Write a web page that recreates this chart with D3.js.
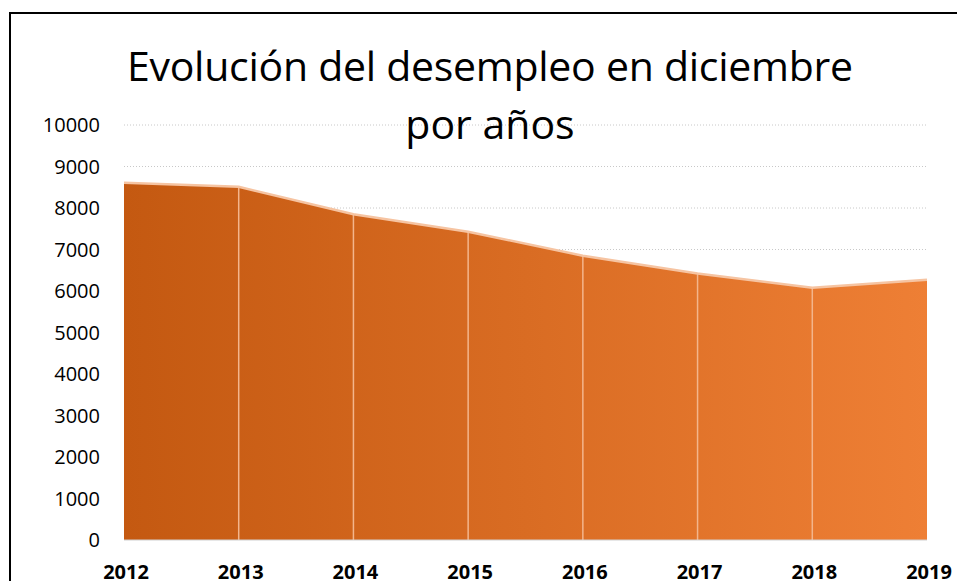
<!DOCTYPE html>
<html>
<head>
<meta charset="utf-8">
<script src="https://cdn.jsdelivr.net/npm/d3@7"></script>
<style>
  body { margin: 0; background: #fff; }
  svg { display: block; }
</style>
</head>
<body>
<div id="chart"></div>
<script>
// datos: desempleo en diciembre
var years = [2012, 2013, 2014, 2015, 2016, 2017, 2018, 2019];
var values = [8610, 8510, 7850, 7430, 6850, 6420, 6080, 6270];
var yTicks = [0, 1000, 2000, 3000, 4000, 5000, 6000, 7000, 8000, 9000, 10000];
var titleLines = ["Evolución del desempleo en diciembre", "por años"];

var width = 957, height = 581;
var margin = { top: 125, right: 30, bottom: 41, left: 124 };

var svg = d3.select("#chart").append("svg")
  .attr("width", width)
  .attr("height", height);

// marco del gráfico
svg.append("rect")
  .attr("x", 10).attr("y", 13)
  .attr("width", 960).attr("height", 600)
  .style("fill", "#fff")
  .style("stroke", "#000")
  .style("stroke-width", 2);

var x = d3.scaleLinear()
  .domain([2012, 2019])
  .range([margin.left, 927]);

var y = d3.scaleLinear()
  .domain([0, 10000])
  .range([540, 125]);

var defs = svg.append("defs");
var grad = defs.append("linearGradient")
  .attr("id", "grad")
  .attr("x1", "0%").attr("x2", "100%")
  .attr("y1", "0%").attr("y2", "0%");
grad.append("stop").attr("offset", "0%").attr("stop-color", "#C45911");
grad.append("stop").attr("offset", "100%").attr("stop-color", "#EE7F35");

// lineas de cuadricula
svg.selectAll(".grid")
  .data(yTicks.filter(function (d) { return d > 0; }))
  .enter().append("line")
  .attr("x1", x(2012)).attr("x2", x(2019))
  .attr("y1", function (d) { return y(d); })
  .attr("y2", function (d) { return y(d); })
  .style("stroke", "#c8c8c8")
  .style("stroke-width", 1)
  .style("stroke-dasharray", "1,2");

var data = years.map(function (d, i) { return { year: d, value: values[i] }; });

var area = d3.area()
  .x(function (d) { return x(d.year); })
  .y0(y(0))
  .y1(function (d) { return y(d.value); });

svg.append("path")
  .datum(data)
  .attr("d", area)
  .style("fill", "url(#grad)");

// separadores verticales
svg.selectAll(".sep")
  .data(data.slice(1, -1))
  .enter().append("line")
  .attr("x1", function (d) { return x(d.year); })
  .attr("x2", function (d) { return x(d.year); })
  .attr("y1", function (d) { return y(d.value); })
  .attr("y2", y(0))
  .style("stroke", "#F3B58C")
  .style("stroke-width", 1.5);

var line = d3.line()
  .x(function (d) { return x(d.year); })
  .y(function (d) { return y(d.value); });

svg.append("path")
  .datum(data)
  .attr("d", line)
  .style("fill", "none")
  .style("stroke", "#F6C4A2")
  .style("stroke-width", 2.5);

// linea base
svg.append("line")
  .attr("x1", x(2012)).attr("x2", x(2019))
  .attr("y1", y(0)).attr("y2", y(0))
  .style("stroke", "#d0d0d0")
  .style("stroke-width", 1);

// eje y
svg.selectAll(".ylab")
  .data(yTicks)
  .enter().append("text")
  .attr("x", 100)
  .attr("y", function (d) { return y(d); })
  .attr("dy", "0.36em")
  .style("text-anchor", "end")
  .style("font", "20px 'Open Sans', sans-serif")
  .style("fill", "#000")
  .text(function (d) { return d; });

// eje x
svg.selectAll(".xlab")
  .data(years)
  .enter().append("text")
  .attr("x", function (d) { return x(d) + 2; })
  .attr("y", 579)
  .style("text-anchor", "middle")
  .style("font", "bold 20px 'Open Sans', sans-serif")
  .style("fill", "#000")
  .text(function (d) { return d; });

// titulo
svg.selectAll(".title")
  .data(titleLines)
  .enter().append("text")
  .attr("x", 490)
  .attr("y", function (d, i) { return 81 + i * 58; })
  .style("text-anchor", "middle")
  .style("font", "41px 'Open Sans', sans-serif")
  .style("textLength", null)
  .attr("textLength", function (d, i) { return i === 0 ? 726 : null; })
  .text(function (d) { return d; });
</script>
</body>
</html>
